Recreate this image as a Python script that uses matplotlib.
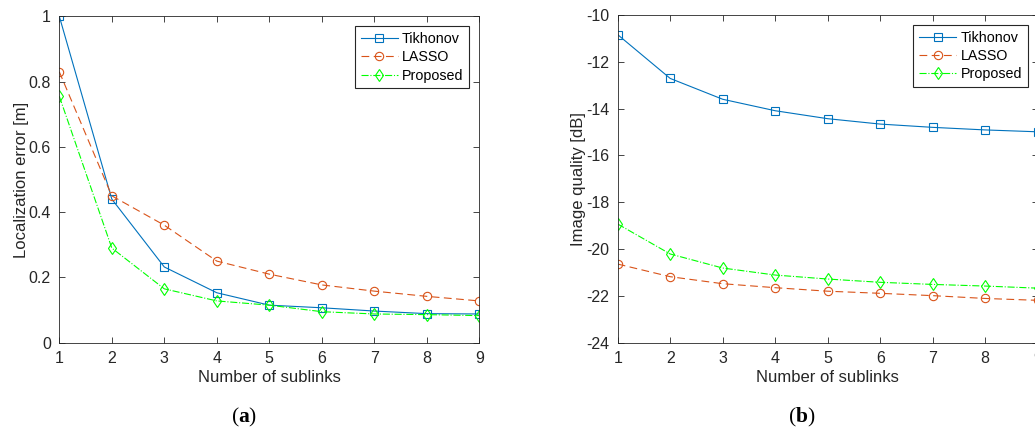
#!/usr/bin/env python3
# -*- coding: utf-8 -*-

import matplotlib
matplotlib.use('Agg')
import matplotlib.pyplot as plt

plt.rcParams['font.family'] = ['Liberation Sans', 'DejaVu Sans']
plt.rcParams.update({'font.size': 11})
# bold letter inside the sub caption
plt.rcParams['mathtext.fontset'] = 'custom'
plt.rcParams['mathtext.rm'] = 'Liberation Serif'
plt.rcParams['mathtext.bf'] = 'Liberation Serif:bold'

# Data
sublinks = [1, 2, 3, 4, 5, 6, 7, 8, 9]
series_names = ['Tikhonov', 'LASSO', 'Proposed']

loc_tikhonov = [1.0, 0.44, 0.232, 0.153, 0.115, 0.107, 0.097, 0.089, 0.088]
loc_lasso = [0.83, 0.45, 0.36, 0.25, 0.21, 0.177, 0.158, 0.142, 0.128]
loc_proposed = [0.755, 0.29, 0.165, 0.128, 0.115, 0.095, 0.088, 0.086, 0.083]

iq_tikhonov = [-10.84, -12.71, -13.60, -14.09, -14.43, -14.66, -14.80, -14.91, -14.99]
iq_lasso = [-20.64, -21.18, -21.48, -21.65, -21.80, -21.89, -21.99, -22.11, -22.19]
iq_proposed = [-18.93, -20.21, -20.81, -21.11, -21.28, -21.42, -21.51, -21.58, -21.67]

loc_yticks = [0, 0.2, 0.4, 0.6, 0.8, 1]
loc_yticklabels = ['0', '0.2', '0.4', '0.6', '0.8', '1']
iq_yticks = [-24, -22, -20, -18, -16, -14, -12, -10]

colors = ['#0072BD', '#D95319', '#00FF00']
styles = ['-', (0, (7, 4)), '-.']
markers = ['s', 'o', 'd']
AX_GREY = '#262626'


# Draws one panel in MATLAB look
def draw_panel(ax, ys, ylabel, yticks, yticklabels, ylim):
    for y, name, c, ls, m in zip(ys, series_names, colors, styles, markers):
        ax.plot(sublinks, y, color=c, linestyle=ls, marker=m, markersize=6,
                markerfacecolor='none', markeredgewidth=0.8, linewidth=0.8,
                label=name)
    ax.set_xlim(1, 9)
    ax.set_ylim(*ylim)
    ax.set_xticks(sublinks)
    ax.set_yticks(yticks)
    ax.set_yticklabels(yticklabels)
    ax.tick_params(direction='in', top=True, right=True, length=4,
                   width=0.6, colors=AX_GREY, labelsize=11.5, pad=6)
    for s in ax.spines.values():
        s.set_color(AX_GREY)
        s.set_linewidth(0.6)
    ax.set_xlabel('Number of sublinks', fontsize=12, color=AX_GREY, labelpad=3)
    ax.set_ylabel(ylabel, fontsize=12, color=AX_GREY, labelpad=0)
    leg = ax.legend(loc='upper right', fancybox=False, framealpha=1,
                    edgecolor=AX_GREY, fontsize=10.3, handlelength=2.6,
                    borderpad=0.4, labelspacing=0.3, handletextpad=0.3,
                    borderaxespad=0.7)
    leg.get_frame().set_linewidth(0.8)


fig = plt.figure(figsize=(10.35, 4.3), dpi=100)
W, H = 1035.0, 430.0

ax1 = fig.add_axes([59.3 / W, 1 - 342.7 / H, 420 / W, 326.4 / H])
draw_panel(ax1, [loc_tikhonov, loc_lasso, loc_proposed], 'Localization error [m]',
           loc_yticks, loc_yticklabels, (0, 1))

ax2 = fig.add_axes([617.7 / W, 1 - 342.7 / H, 420 / W, 327.7 / H])
draw_panel(ax2, [iq_tikhonov, iq_lasso, iq_proposed], 'Image quality [dB]',
           iq_yticks, [str(t) for t in iq_yticks], (-24, -10))

# Sub captions
for xc, letter in [(244, 'a'), (801.7, 'b')]:
    fig.text(xc / W, 1 - 417 / H, r'($\mathbf{%s}$)' % letter, fontsize=15.5,
             ha='center', va='center', family='Liberation Serif')

fig.savefig('out.png', dpi=100)
